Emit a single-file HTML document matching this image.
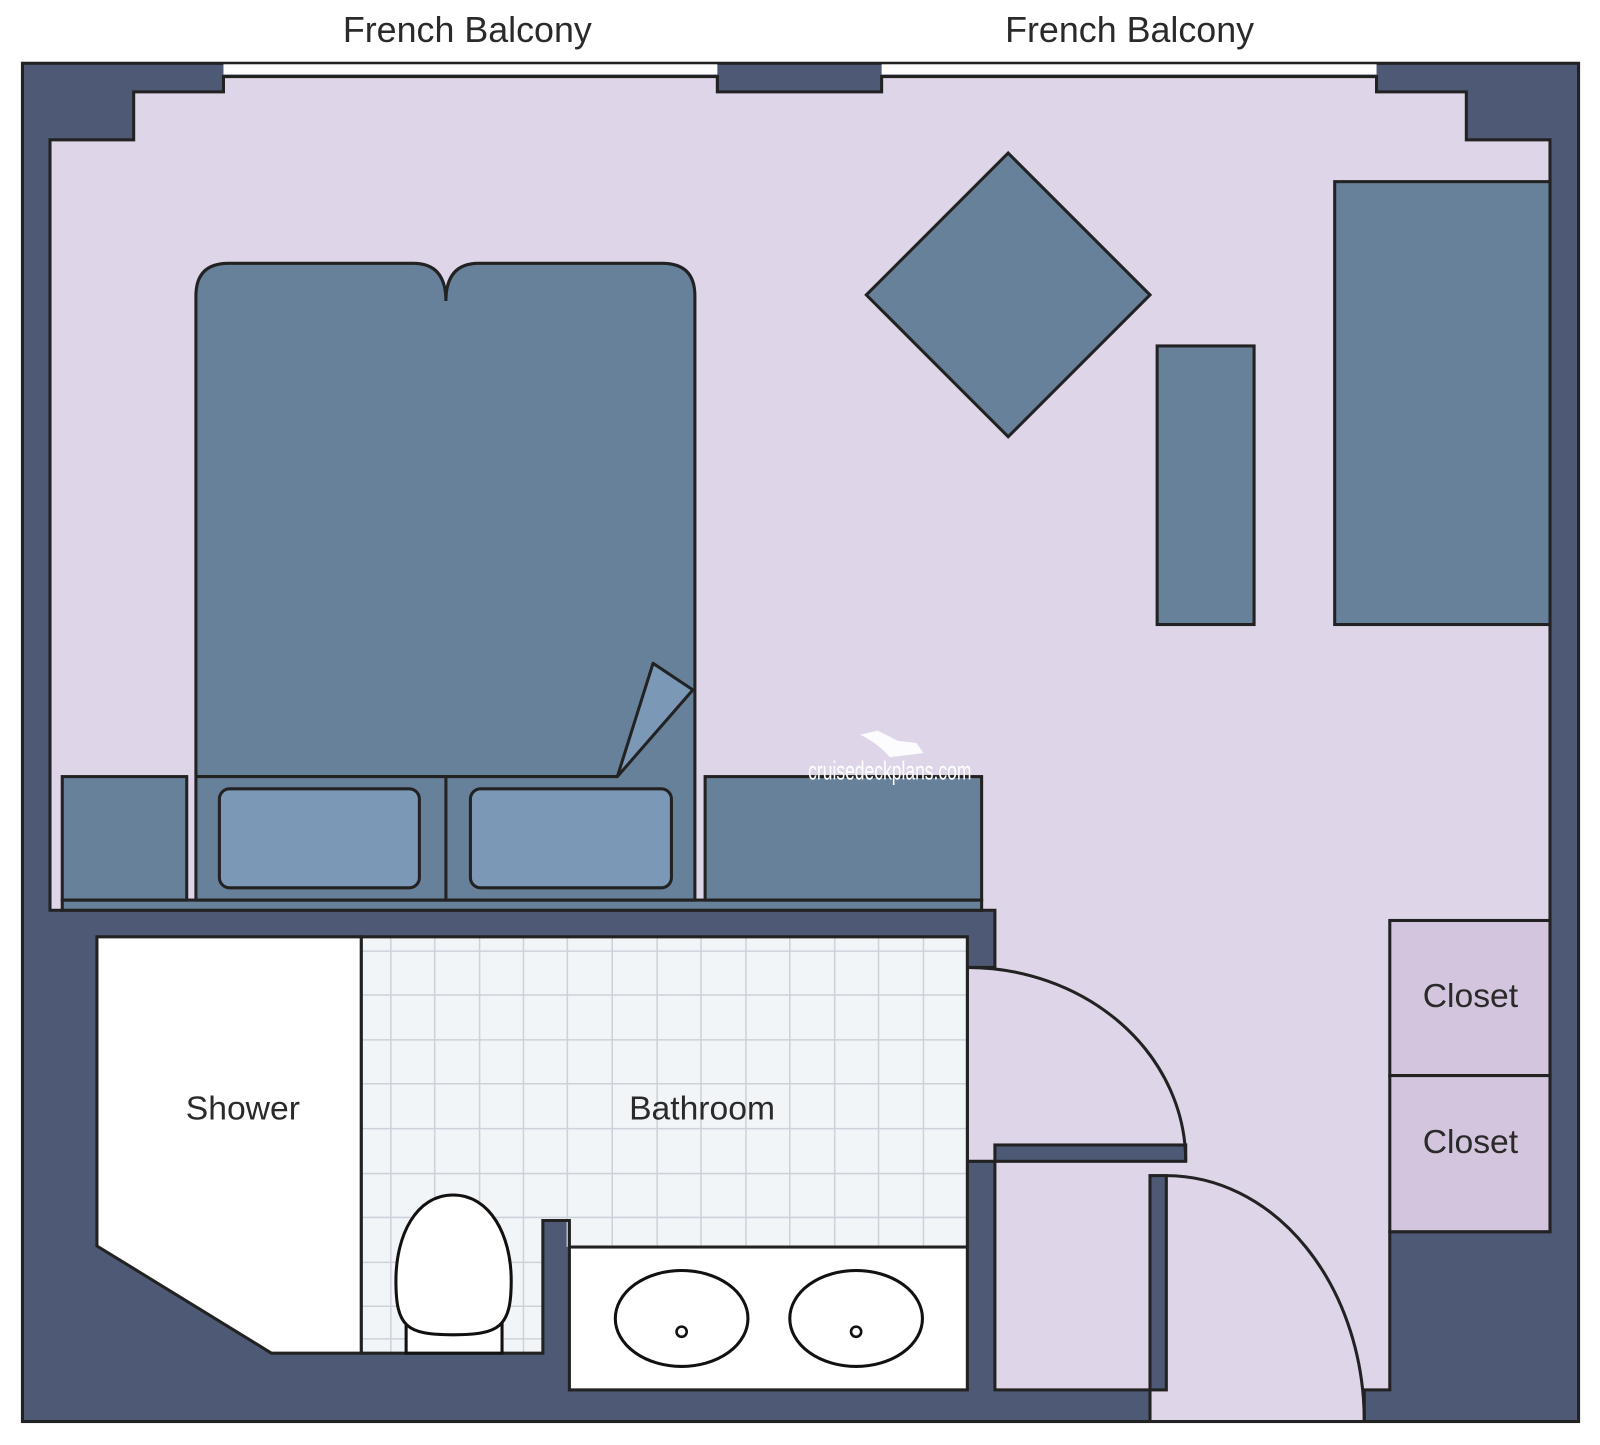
<!DOCTYPE html>
<html><head><meta charset="utf-8"><style>html,body{margin:0;padding:0;background:#fff}svg{display:block}</style></head>
<body>
<svg width="1600" height="1445" viewBox="0 0 1568 1416" preserveAspectRatio="none" xmlns="http://www.w3.org/2000/svg" font-family="Liberation Sans, sans-serif">
<rect x="0" y="0" width="1568" height="1416" fill="#fff"/>
<text x="458" y="41" font-size="35" fill="#2a2a2a" text-anchor="middle" textLength="244" lengthAdjust="spacingAndGlyphs">French Balcony</text>
<text x="1107" y="41" font-size="35" fill="#2a2a2a" text-anchor="middle" textLength="244" lengthAdjust="spacingAndGlyphs">French Balcony</text>
<rect x="22" y="62" width="1525" height="1331" fill="#4e5a75" stroke="#222" stroke-width="3"/>
<rect x="219" y="63" width="484" height="10" fill="#fff"/>
<rect x="864" y="63" width="485" height="10" fill="#fff"/>
<polygon points="49,137 131,137 131,90 219,90 219,75 703,75 703,90 864,90 864,75 1349,75 1349,90 1437,90 1437,137 1519,137 1519,1207 1362,1207 1362,1362 1337,1362 1337,1393 1127,1393 1127,1362 975,1362 975,1138 948,1138 948,948 975,948 975,892 49,892" fill="#ded6e8" stroke="#222" stroke-width="3"/>
<rect x="975" y="1122" width="187" height="16" fill="#4e5a75" stroke="#222" stroke-width="3"/>
<rect x="1127" y="1152" width="16" height="210" fill="#4e5a75" stroke="#222" stroke-width="3"/>
<path d="M948,948 A214,190 0 0 1 1162,1138" fill="none" stroke="#222" stroke-width="3"/>
<path d="M1143,1152 A194,241 0 0 1 1337,1393" fill="none" stroke="#222" stroke-width="3"/>
<polygon points="988,150 1127,289 988,428 849,289" fill="#68819a" stroke="#222" stroke-width="3"/>
<rect x="1134" y="339" width="95" height="273" fill="#68819a" stroke="#222" stroke-width="3"/>
<rect x="1308" y="178" width="211" height="434" fill="#68819a" stroke="#222" stroke-width="3"/>
<rect x="1362" y="902" width="157" height="152" fill="#d3c5de" stroke="#222" stroke-width="3"/>
<rect x="1362" y="1054" width="157" height="153" fill="#d3c5de" stroke="#222" stroke-width="3"/>
<text x="1441" y="987" font-size="33" fill="#2a2a2a" text-anchor="middle">Closet</text>
<text x="1441" y="1130" font-size="33" fill="#2a2a2a" text-anchor="middle">Closet</text>
<rect x="61" y="882" width="901" height="10" fill="#68819a" stroke="#222" stroke-width="3"/>
<path d="M192,882 L192,290 Q192,258 224,258 L405,258 Q437,258 437,295 Q437,258 469,258 L649,258 Q681,258 681,290 L681,882 Z" fill="#68819a" stroke="#222" stroke-width="3"/>
<line x1="192" y1="761" x2="605" y2="761" stroke="#222" stroke-width="3"/>
<polygon points="605,761 640,650 679,676" fill="#7b98b6" stroke="#222" stroke-width="3" stroke-linejoin="round"/>
<line x1="437" y1="761" x2="437" y2="882" stroke="#222" stroke-width="3"/>
<rect x="215" y="773" width="196" height="97" rx="10" fill="#7b98b6" stroke="#222" stroke-width="3"/>
<rect x="461" y="773" width="197" height="97" rx="10" fill="#7b98b6" stroke="#222" stroke-width="3"/>
<rect x="61" y="761" width="122" height="121" fill="#68819a" stroke="#222" stroke-width="3"/>
<rect x="691" y="761" width="271" height="121" fill="#68819a" stroke="#222" stroke-width="3"/>
<polygon points="354,918 948,918 948,1222 558,1222 558,1196 532,1196 532,1326 354,1326" fill="#f2f5f8"/>
<g stroke="#cdd2da" stroke-width="1.5">
<line x1="383" y1="918" x2="383" y2="1326"/><line x1="426" y1="918" x2="426" y2="1326"/><line x1="470" y1="918" x2="470" y2="1326"/><line x1="513" y1="918" x2="513" y2="1326"/>
<line x1="556" y1="918" x2="556" y2="1222"/><line x1="600" y1="918" x2="600" y2="1222"/><line x1="644" y1="918" x2="644" y2="1222"/><line x1="687" y1="918" x2="687" y2="1222"/><line x1="731" y1="918" x2="731" y2="1222"/><line x1="774" y1="918" x2="774" y2="1222"/><line x1="818" y1="918" x2="818" y2="1222"/><line x1="861" y1="918" x2="861" y2="1222"/><line x1="905" y1="918" x2="905" y2="1222"/>
<line x1="354" y1="932" x2="948" y2="932"/><line x1="354" y1="975" x2="948" y2="975"/><line x1="354" y1="1019" x2="948" y2="1019"/><line x1="354" y1="1062" x2="948" y2="1062"/><line x1="354" y1="1106" x2="948" y2="1106"/><line x1="354" y1="1150" x2="948" y2="1150"/><line x1="354" y1="1193" x2="948" y2="1193"/>
<line x1="354" y1="1237" x2="532" y2="1237"/><line x1="354" y1="1280" x2="532" y2="1280"/><line x1="354" y1="1312" x2="532" y2="1312"/>
</g>
<polygon points="354,918 948,918 948,1222 558,1222 558,1196 532,1196 532,1326 354,1326" fill="none" stroke="#222" stroke-width="3"/>
<polygon points="95,918 354,918 354,1326 266,1326 95,1221" fill="#fff" stroke="#222" stroke-width="3"/>
<rect x="558" y="1222" width="390" height="140" fill="#fff" stroke="#222" stroke-width="3"/>
<ellipse cx="668" cy="1292" rx="65" ry="47" fill="#fff" stroke="#111" stroke-width="3"/>
<ellipse cx="839" cy="1292" rx="65" ry="47" fill="#fff" stroke="#111" stroke-width="3"/>
<circle cx="668" cy="1305" r="5" fill="#fff" stroke="#111" stroke-width="2.5"/>
<circle cx="839" cy="1305" r="5" fill="#fff" stroke="#111" stroke-width="2.5"/>
<rect x="398" y="1296" width="94" height="30" fill="#fff" stroke="#111" stroke-width="3"/>
<path d="M444,1171 C480,1171 501,1210 501,1255 C501,1300 490,1308 444,1308 C398,1308 388,1300 388,1255 C388,1210 408,1171 444,1171 Z" fill="#fff" stroke="#111" stroke-width="3"/>
<text x="238" y="1097" font-size="33" fill="#2a2a2a" text-anchor="middle">Shower</text>
<text x="688" y="1097" font-size="33" fill="#2a2a2a" text-anchor="middle">Bathroom</text>
<text x="872" y="764" font-size="25" fill="#fff" text-anchor="middle" textLength="160" lengthAdjust="spacingAndGlyphs">cruisedeckplans.com</text>
<path d="M843,720 Q860,728 872,742 L905,738 L898,728 L880,726 L860,716 Z" fill="#fff" opacity="0.9"/>
</svg>
</body></html>
